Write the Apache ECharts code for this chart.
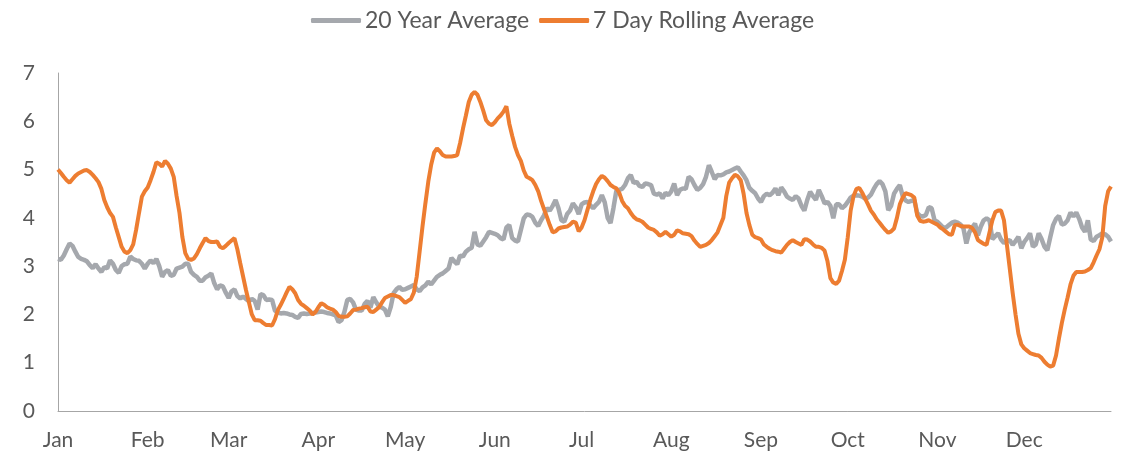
<!DOCTYPE html>
<html>
<head>
<meta charset="utf-8">
<script src="https://cdn.jsdelivr.net/npm/echarts@6/dist/echarts.min.js"></script>
<style>
html,body{margin:0;padding:0;background:#fff;}
#chart{width:1127px;height:457px;}
</style>
</head>
<body>
<div id="chart"></div>
<script>
// Month tick labels and lengths (one category per day of the year)
var months = ['Jan','Feb','Mar','Apr','May','Jun','Jul','Aug','Sep','Oct','Nov','Dec'];
var monthDays = [31,28,31,30,31,30,31,31,30,31,30,31];

var yTicks = [0,1,2,3,4,5,6,7];

// 20 Year Average (daily)
var avg20 = [
3.15,3.13,3.22,3.35,3.47,3.42,3.30,3.19,3.15,3.13,
3.10,3.02,2.96,3.04,2.95,2.88,2.98,2.95,3.12,3.05,
2.92,2.86,3.00,3.04,3.05,3.20,3.15,3.12,3.11,3.05,
2.95,3.05,3.12,3.06,3.15,3.00,2.78,2.88,2.92,2.80,
2.82,2.95,2.97,2.99,3.05,3.05,2.88,2.82,2.78,2.70,
2.70,2.77,2.80,2.85,2.65,2.52,2.60,2.58,2.45,2.34,
2.48,2.52,2.38,2.33,2.37,2.32,2.27,2.32,2.28,2.10,
2.42,2.40,2.30,2.31,2.30,2.08,2.04,2.02,2.03,2.02,
2.00,1.99,1.95,1.93,2.01,2.02,2.01,2.02,2.03,2.04,
2.05,2.06,2.05,2.03,2.02,2.00,1.98,1.84,1.88,2.05,
2.30,2.32,2.25,2.10,2.08,2.08,2.22,2.28,2.14,2.36,
2.25,2.16,2.14,2.10,1.96,2.15,2.44,2.52,2.57,2.51,
2.52,2.55,2.58,2.61,2.52,2.48,2.56,2.60,2.68,2.62,
2.70,2.78,2.82,2.85,2.90,2.95,3.17,3.10,3.04,3.22,
3.20,3.30,3.35,3.38,3.71,3.45,3.42,3.51,3.60,3.71,
3.69,3.67,3.64,3.58,3.55,3.80,3.85,3.58,3.53,3.51,
3.75,3.99,4.07,4.06,4.02,3.90,3.83,3.95,4.05,4.20,
4.15,4.25,4.37,4.20,3.95,3.92,4.08,4.15,4.30,4.22,
4.08,4.28,4.32,4.33,4.26,4.20,4.27,4.33,4.47,4.32,
4.00,3.89,4.20,4.56,4.58,4.60,4.68,4.82,4.89,4.72,
4.75,4.66,4.64,4.71,4.70,4.68,4.50,4.48,4.51,4.40,
4.52,4.47,4.55,4.71,4.47,4.58,4.61,4.60,4.85,4.80,
4.68,4.58,4.62,4.70,4.85,5.09,4.95,4.80,4.89,4.88,
4.90,4.94,4.96,4.99,5.02,5.05,4.96,4.88,4.78,4.62,
4.56,4.51,4.40,4.33,4.45,4.50,4.47,4.52,4.61,4.47,
4.63,4.55,4.44,4.40,4.37,4.45,4.40,4.25,4.15,4.37,
4.54,4.45,4.37,4.58,4.45,4.30,4.33,4.25,3.99,4.28,
4.28,4.20,4.25,4.33,4.42,4.46,4.47,4.46,4.44,4.40,
4.42,4.48,4.60,4.70,4.76,4.70,4.55,4.16,4.25,4.50,
4.60,4.68,4.45,4.36,4.33,4.35,4.37,4.10,4.04,4.03,
4.06,4.22,4.20,3.95,3.92,3.86,3.80,3.80,3.85,3.90,
3.92,3.90,3.86,3.78,3.47,3.70,3.80,3.88,3.64,3.82,
3.95,3.99,3.95,3.56,3.62,3.68,3.55,3.48,3.52,3.54,
3.44,3.52,3.61,3.37,3.50,3.58,3.68,3.40,3.45,3.68,
3.56,3.40,3.33,3.60,3.85,3.98,4.04,3.86,3.88,3.95,
4.11,4.03,4.11,3.98,3.80,3.71,3.95,3.55,3.52,3.61,
3.64,3.68,3.66,3.61,3.51
];

// 7 Day Rolling Average (daily)
var rolling7 = [
5.00,4.93,4.85,4.78,4.73,4.80,4.87,4.92,4.95,4.98,
4.99,4.95,4.89,4.82,4.74,4.60,4.37,4.22,4.10,4.02,
3.80,3.60,3.40,3.30,3.27,3.33,3.45,3.75,4.10,4.44,
4.55,4.63,4.78,4.95,5.15,5.12,5.06,5.18,5.12,5.02,
4.85,4.45,4.10,3.60,3.27,3.15,3.13,3.16,3.25,3.37,
3.48,3.58,3.52,3.50,3.50,3.51,3.40,3.37,3.42,3.48,
3.53,3.58,3.35,3.06,2.78,2.50,2.25,2.00,1.88,1.88,
1.87,1.82,1.78,1.78,1.77,1.90,2.09,2.20,2.32,2.45,
2.57,2.52,2.44,2.30,2.22,2.18,2.13,2.08,2.00,2.05,
2.15,2.23,2.20,2.15,2.12,2.10,2.05,1.97,1.95,1.95,
1.96,2.02,2.09,2.10,2.12,2.13,2.15,2.16,2.06,2.05,
2.10,2.15,2.25,2.34,2.37,2.40,2.40,2.38,2.36,2.30,
2.24,2.28,2.32,2.45,2.78,3.30,3.82,4.30,4.75,5.10,
5.35,5.44,5.38,5.30,5.27,5.27,5.27,5.28,5.30,5.55,
5.85,6.12,6.40,6.55,6.61,6.55,6.40,6.22,6.02,5.95,
5.92,5.98,6.06,6.12,6.20,6.31,5.95,5.70,5.47,5.30,
5.18,4.98,4.85,4.82,4.78,4.68,4.55,4.35,4.18,4.02,
3.85,3.70,3.72,3.78,3.80,3.81,3.82,3.86,3.92,3.90,
3.72,3.80,3.95,4.16,4.37,4.55,4.70,4.80,4.87,4.83,
4.76,4.68,4.64,4.61,4.52,4.35,4.25,4.20,4.10,4.02,
3.97,3.95,3.92,3.86,3.80,3.77,3.75,3.70,3.63,3.66,
3.71,3.66,3.61,3.65,3.74,3.72,3.68,3.67,3.66,3.62,
3.53,3.46,3.40,3.42,3.44,3.48,3.54,3.62,3.70,3.85,
4.00,4.45,4.73,4.82,4.89,4.86,4.78,4.50,4.10,3.85,
3.65,3.60,3.58,3.55,3.45,3.40,3.36,3.33,3.31,3.30,
3.28,3.36,3.44,3.50,3.54,3.50,3.47,3.44,3.56,3.55,
3.51,3.45,3.40,3.40,3.38,3.32,3.10,2.75,2.66,2.63,
2.70,2.90,3.13,3.60,4.15,4.45,4.60,4.62,4.52,4.40,
4.28,4.15,4.07,3.97,3.90,3.82,3.75,3.69,3.72,3.78,
4.00,4.28,4.42,4.51,4.49,4.47,4.42,4.05,3.94,3.92,
3.93,3.95,3.92,3.89,3.86,3.80,3.76,3.71,3.66,3.65,
3.85,3.86,3.83,3.82,3.82,3.82,3.79,3.70,3.54,3.50,
3.46,3.44,3.70,3.95,4.12,4.15,4.15,3.95,3.45,2.95,
2.45,2.00,1.60,1.38,1.30,1.25,1.20,1.18,1.16,1.15,
1.10,1.02,0.96,0.92,0.94,1.15,1.50,1.82,2.10,2.35,
2.62,2.80,2.88,2.88,2.88,2.89,2.92,2.96,3.08,3.22,
3.35,3.60,4.25,4.55,4.65
];

// Build day categories: label only on the first day of each month
var categories = [];
var labelAt = {};
months.forEach(function (m, i) {
  for (var d = 1; d <= monthDays[i]; d++) {
    categories.push(m + ' ' + d);
    if (d === 1) labelAt[categories.length - 1] = m;
  }
});

var FONT = 'Lato, "Open Sans", sans-serif';
var chart = echarts.init(document.getElementById('chart'), null, {renderer: 'canvas'});
chart.setOption({
  animation: false,
  backgroundColor: '#ffffff',
  legend: {
    top: 4,
    left: 306,
    itemWidth: 50,
    itemHeight: 5,
    itemGap: 10,
    icon: 'roundRect',
    textStyle: {fontFamily: FONT, fontSize: 23, color: '#595959', padding: [0, 0, 0, -1]},
    data: ['20 Year Average', '7 Day Rolling Average']
  },
  grid: {left: 58, right: 16, top: 73, bottom: 46, containLabel: false},
  xAxis: {
    type: 'category',
    data: categories,
    boundaryGap: false,
    axisLine: {show: true, lineStyle: {color: '#a6a6a6', width: 1}},
    axisTick: {show: false},
    axisLabel: {
      interval: function (idx) { return labelAt[idx] !== undefined; },
      formatter: function (v, idx) { return labelAt[idx] || ''; },
      fontFamily: FONT, fontSize: 21, color: '#595959', margin: 19
    },
    splitLine: {show: false}
  },
  yAxis: {
    type: 'value',
    min: yTicks[0],
    max: yTicks[yTicks.length - 1],
    interval: 1,
    axisLine: {show: true, lineStyle: {color: '#a6a6a6', width: 1}},
    axisTick: {show: false},
    axisLabel: {fontFamily: FONT, fontSize: 21, color: '#595959', margin: 23},
    splitLine: {show: false}
  },
  series: [
    {
      name: '20 Year Average',
      type: 'line',
      data: avg20,
      showSymbol: false,
      symbol: 'none',
      lineStyle: {color: '#A5A8AD', width: 4.5},
      itemStyle: {color: '#A5A8AD'},
      z: 2
    },
    {
      name: '7 Day Rolling Average',
      type: 'line',
      data: rolling7,
      showSymbol: false,
      symbol: 'none',
      lineStyle: {color: '#ED7D31', width: 4},
      itemStyle: {color: '#ED7D31'},
      z: 3
    }
  ]
});
</script>
</body>
</html>
